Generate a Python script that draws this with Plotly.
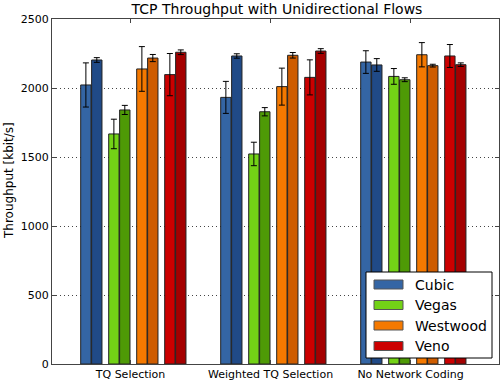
import plotly.graph_objects as go

groups = ["TQ Selection", "Weighted TQ Selection", "No Network Coding"]
algorithms = ["Cubic", "Vegas", "Westwood", "Veno"]

cubic_a = [2022, 1932, 2188]
cubic_a_err = [160, 116, 82]
cubic_b = [2203, 2232, 2167]
cubic_b_err = [17, 16, 46]
vegas_a = [1667, 1522, 2084]
vegas_a_err = [107, 85, 57]
vegas_b = [1841, 1828, 2060]
vegas_b_err = [33, 30, 14]
westwood_a = [2138, 2010, 2241]
westwood_a_err = [162, 134, 88]
westwood_b = [2217, 2237, 2162]
westwood_b_err = [26, 20, 10]
veno_a = [2097, 2077, 2232]
veno_a_err = [153, 127, 83]
veno_b = [2259, 2268, 2169]
veno_b_err = [17, 17, 13]

yticks = [0, 500, 1000, 1500, 2000, 2500]

colors_a = ["#3465a4", "#73d216", "#f57900", "#cc0000"]
colors_b = ["#204a87", "#4e9a06", "#ce5c00", "#a40000"]
values_a = [cubic_a, vegas_a, westwood_a, veno_a]
errors_a = [cubic_a_err, vegas_a_err, westwood_a_err, veno_a_err]
values_b = [cubic_b, vegas_b, westwood_b, veno_b]
errors_b = [cubic_b_err, vegas_b_err, westwood_b_err, veno_b_err]

# layout geometry (data units: 1 = spacing between groups)
shift = 0.02
pair_offsets = [-0.3, -0.1, 0.1, 0.3]
half = 0.039
bw = 0.074

fig = go.Figure()
gx = list(range(len(groups)))
for i, name in enumerate(algorithms):
    for vals, errs, col, sign in [
        (values_a[i], errors_a[i], colors_a[i], -1),
        (values_b[i], errors_b[i], colors_b[i], 1),
    ]:
        fig.add_trace(go.Bar(
            x=[g + shift + pair_offsets[i] + sign * half for g in gx],
            y=vals,
            width=bw,
            name=name,
            showlegend=False,
            marker=dict(color=col, line=dict(color="#222222", width=1)),
            error_y=dict(type="data", array=errs, color="black", thickness=1, width=3),
        ))

# hand-drawn legend (wide swatches like the reference)
W, H = 447.0, 345.0   # plot area size in px
def px_x(p):
    return (p - 52) / W
def px_y(p):
    return (364 - p) / H

shapes = [dict(type="rect", xref="paper", yref="paper", layer="above",
               x0=px_x(366), x1=px_x(492), y0=px_y(358), y1=px_y(272),
               fillcolor="white", line=dict(color="black", width=1))]
annotations = []
for i, name in enumerate(algorithms):
    cy = 284.5 + 20.5 * i
    shapes.append(dict(type="rect", xref="paper", yref="paper", layer="above",
                       x0=px_x(374), x1=px_x(403), y0=px_y(cy + 4.5), y1=px_y(cy - 4.5),
                       fillcolor=colors_a[i], line=dict(color="#555555", width=1)))
    annotations.append(dict(xref="paper", yref="paper", x=px_x(413), y=px_y(cy),
                            xanchor="left", yanchor="middle", showarrow=False,
                            text=name, font=dict(size=14, color="black")))

# y-axis title placed like the reference
annotations.append(dict(xref="paper", yref="paper", x=px_x(9), y=px_y(181),
                        xanchor="center", yanchor="middle", showarrow=False,
                        textangle=-90, text="Throughput [kbit/s]",
                        font=dict(size=12, color="black")))

fig.update_layout(
    width=503, height=384,
    margin=dict(l=52, r=4, t=19, b=20),
    paper_bgcolor="white", plot_bgcolor="white",
    font=dict(family="DejaVu Sans", size=11, color="black"),
    title=dict(text="TCP Throughput with Unidirectional Flows", x=277 / 503, xanchor="center",
               xref="container", yref="container",
               y=1 - 9.5 / 384, yanchor="middle", font=dict(size=14)),
    barmode="overlay",
    showlegend=False,
    shapes=shapes,
    annotations=annotations,
    xaxis=dict(range=[-0.561, 2.632], tickvals=gx, ticktext=groups,
               showgrid=False, zeroline=False, showline=True, linecolor="#444",
               linewidth=1, mirror="allticks", ticks="inside", ticklen=4,
               tickfont=dict(size=11)),
    yaxis=dict(range=[0, 2500], tickvals=yticks, showgrid=True, gridcolor="#444",
               griddash="1px,3px", gridwidth=1, zeroline=False, showline=True, linecolor="#444",
               linewidth=1, mirror="allticks", ticks="inside", ticklen=4,
               tickfont=dict(size=11)),
)

fig.write_html("out.html", config={"displayModeBar": False},
               post_script="document.body.style.margin='0';")
